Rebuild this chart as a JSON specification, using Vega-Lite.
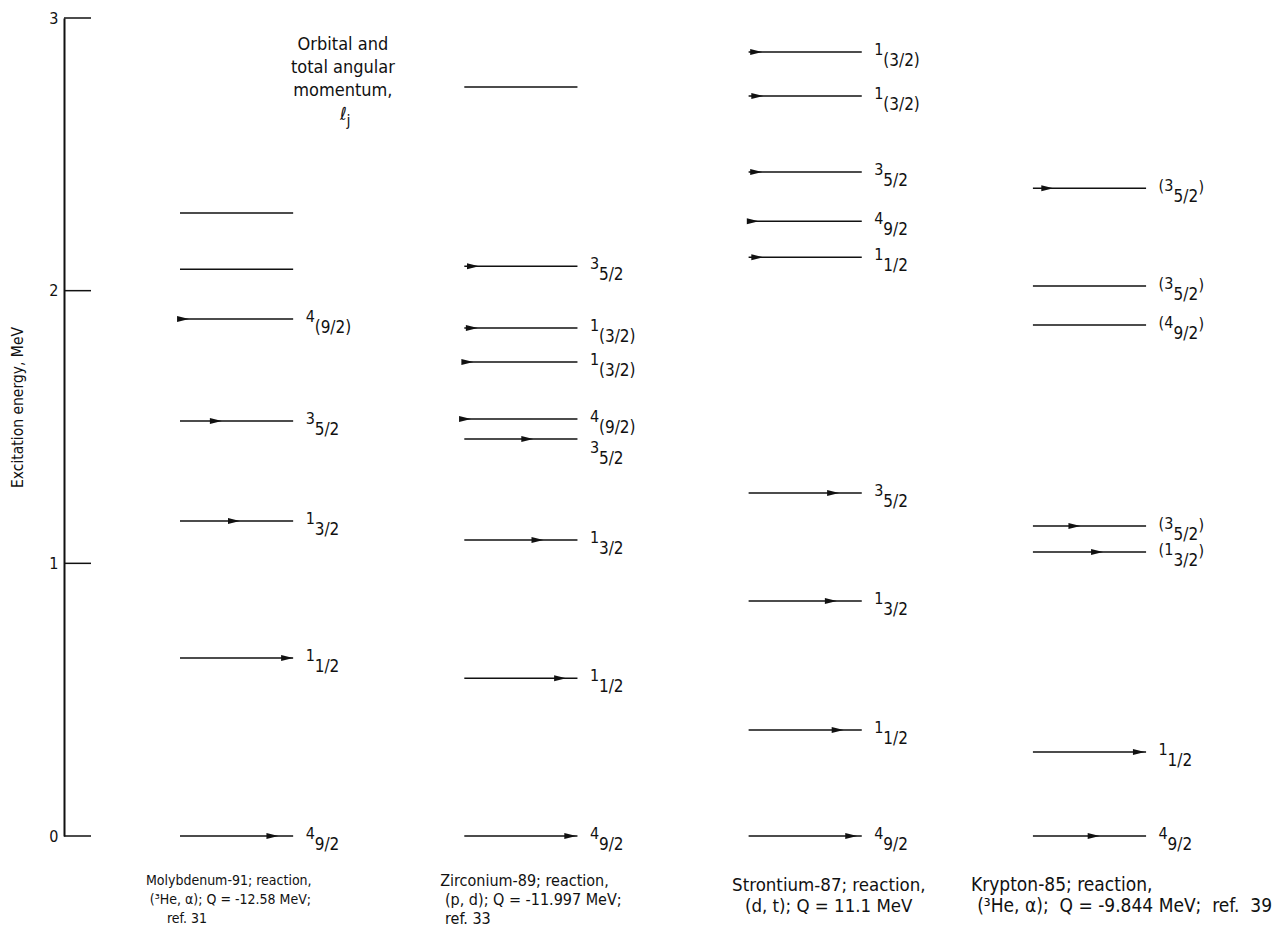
{
  "$schema": "https://vega.github.io/schema/vega-lite/v6.json",
  "width": 1212,
  "height": 818,
  "autosize": {"type": "none"},
  "padding": {"left": 64, "top": 18, "right": 0, "bottom": 112},
  "background": "white",
  "config": {
    "view": {"stroke": null},
    "font": "Liberation Sans Narrow, DejaVu Sans Condensed, Liberation Sans, sans-serif"
  },
  "datasets": {
    "levels": [
      {"col": 1, "E": 2.285},
      {"col": 1, "E": 2.079},
      {"col": 1, "E": 1.896, "l": "4", "j": "9/2", "jp": true, "a": 0.08},
      {"col": 1, "E": 1.522, "l": "3", "j": "5/2", "a": 0.37},
      {"col": 1, "E": 1.155, "l": "1", "j": "3/2", "a": 0.53},
      {"col": 1, "E": 0.653, "l": "1", "j": "1/2", "a": 1.0},
      {"col": 1, "E": 0.0, "l": "4", "j": "9/2", "a": 0.87},
      {"col": 2, "E": 2.747},
      {"col": 2, "E": 2.09, "l": "3", "j": "5/2", "a": 0.13},
      {"col": 2, "E": 1.863, "l": "1", "j": "3/2", "jp": true, "a": 0.12},
      {"col": 2, "E": 1.738, "l": "1", "j": "3/2", "jp": true, "a": 0.08},
      {"col": 2, "E": 1.529, "l": "4", "j": "9/2", "jp": true, "a": 0.06},
      {"col": 2, "E": 1.456, "l": "3", "j": "5/2", "a": 0.61, "below": true},
      {"col": 2, "E": 1.086, "l": "1", "j": "3/2", "a": 0.7},
      {"col": 2, "E": 0.579, "l": "1", "j": "1/2", "a": 0.9},
      {"col": 2, "E": 0.0, "l": "4", "j": "9/2", "a": 0.99},
      {"col": 3, "E": 2.875, "l": "1", "j": "3/2", "jp": true, "a": 0.12},
      {"col": 3, "E": 2.714, "l": "1", "j": "3/2", "jp": true, "a": 0.13},
      {"col": 3, "E": 2.435, "l": "3", "j": "5/2", "a": 0.12},
      {"col": 3, "E": 2.255, "l": "4", "j": "9/2", "a": 0.09},
      {"col": 3, "E": 2.123, "l": "1", "j": "1/2", "a": 0.13},
      {"col": 3, "E": 1.258, "l": "3", "j": "5/2", "a": 0.8},
      {"col": 3, "E": 0.862, "l": "1", "j": "3/2", "a": 0.78},
      {"col": 3, "E": 0.389, "l": "1", "j": "1/2", "a": 0.84},
      {"col": 3, "E": 0.0, "l": "4", "j": "9/2", "a": 0.96},
      {"col": 4, "E": 2.376, "l": "3", "j": "5/2", "op": true, "a": 0.18},
      {"col": 4, "E": 2.017, "l": "3", "j": "5/2", "op": true},
      {"col": 4, "E": 1.874, "l": "4", "j": "9/2", "op": true},
      {"col": 4, "E": 1.137, "l": "3", "j": "5/2", "op": true, "a": 0.42},
      {"col": 4, "E": 1.042, "l": "1", "j": "3/2", "op": true, "a": 0.62},
      {"col": 4, "E": 0.308, "l": "1", "j": "1/2", "a": 0.99},
      {"col": 4, "E": 0.0, "l": "4", "j": "9/2", "a": 0.59}
    ],
    "captions": [
      {"col": 1, "line": 1, "text": "Molybdenum-91; reaction,"},
      {"col": 1, "line": 2, "text": "(³He, α); Q = -12.58 MeV;"},
      {"col": 1, "line": 3, "text": "ref. 31"},
      {"col": 2, "line": 1, "text": "Zirconium-89; reaction,"},
      {"col": 2, "line": 2, "text": "(p, d); Q = -11.997 MeV;"},
      {"col": 2, "line": 3, "text": "ref. 33"},
      {"col": 3, "line": 1, "text": "Strontium-87; reaction,"},
      {"col": 3, "line": 2, "text": "(d, t); Q = 11.1 MeV"},
      {"col": 4, "line": 1, "text": "Krypton-85; reaction,"},
      {"col": 4, "line": 2, "text": "(³He, α);\u00a0 Q = -9.844 MeV;\u00a0 ref.\u00a0 39"}
    ]
  },
  "layer": [
    {
      "data": {"values": [{"E": 0}, {"E": 1}, {"E": 2}, {"E": 3}]},
      "mark": {"type": "rule", "color": "#111", "strokeWidth": 1.5},
      "encoding": {
        "x": {"datum": 0, "type": "quantitative", "scale": {"domain": [0, 4.263], "nice": false, "zero": false}, "axis": null},
        "x2": {"datum": 0.095},
        "y": {
          "field": "E", "type": "quantitative",
          "scale": {"domain": [0, 3], "nice": false, "zero": false},
          "axis": {
            "title": "Excitation energy, MeV",
            "titleFontSize": 15.5, "titleFontWeight": "normal", "titleColor": "#111",
            "titleX": -47, "titleY": 389, "titleAngle": -90,
            "titleAlign": "center", "titleBaseline": "middle",
            "values": [0, 1, 2, 3], "format": "d",
            "ticks": false, "tickSize": 0, "labelPadding": 6,
            "labelFontSize": 16, "labelColor": "#111", "labelFlush": false,
            "labelBaseline": "middle", "labelAlign": "right",
            "domainColor": "#111", "domainWidth": 2, "grid": false
          }
        }
      }
    },
    {
      "data": {"name": "levels"},
      "transform": [
        {"calculate": "datum.col - 0.592", "as": "x0"},
        {"calculate": "datum.x0 + 0.398", "as": "x1"}
      ],
      "mark": {"type": "rule", "color": "#111", "strokeWidth": 1.5},
      "encoding": {
        "x": {"field": "x0", "type": "quantitative", "axis": null},
        "x2": {"field": "x1"},
        "y": {"field": "E", "type": "quantitative"}
      }
    },
    {
      "data": {"name": "levels"},
      "transform": [
        {"filter": "isValid(datum.a)"},
        {"calculate": "datum.col - 0.592 + datum.a * 0.398", "as": "xa"}
      ],
      "mark": {"type": "point", "shape": "M -4 -1 L 0 0 L -4 1 Z", "filled": true, "size": 36, "color": "#111", "opacity": 1},
      "encoding": {
        "x": {"field": "xa", "type": "quantitative", "axis": null},
        "y": {"field": "E", "type": "quantitative"}
      }
    },
    {
      "data": {"name": "levels"},
      "transform": [
        {"filter": "isValid(datum.l)"},
        {"calculate": "datum.col - 0.592 + 0.398 + 0.044", "as": "xl"},
        {"calculate": "datum.below ? datum.E - 0.042 : datum.E", "as": "ly"},
        {"calculate": "(datum.op ? '(' : '') + datum.l", "as": "pre"}
      ],
      "mark": {"type": "text", "align": "left", "baseline": "middle", "dy": -2, "fontSize": 16, "color": "#111"},
      "encoding": {
        "x": {"field": "xl", "type": "quantitative", "axis": null},
        "y": {"field": "ly", "type": "quantitative"},
        "text": {"field": "pre"}
      }
    },
    {
      "data": {"name": "levels"},
      "transform": [
        {"filter": "isValid(datum.l) && !datum.op"},
        {"calculate": "datum.col - 0.592 + 0.398 + 0.044", "as": "xl"},
        {"calculate": "datum.below ? datum.E - 0.042 : datum.E", "as": "ly"},
        {"calculate": "datum.jp ? '(' + datum.j + ')' : datum.j", "as": "sub"}
      ],
      "mark": {"type": "text", "align": "left", "baseline": "middle", "dx": 9, "dy": 9, "fontSize": 17, "color": "#111"},
      "encoding": {
        "x": {"field": "xl", "type": "quantitative", "axis": null},
        "y": {"field": "ly", "type": "quantitative"},
        "text": {"field": "sub"}
      }
    },
    {
      "data": {"name": "levels"},
      "transform": [
        {"filter": "isValid(datum.l) && datum.op"},
        {"calculate": "datum.col - 0.592 + 0.398 + 0.044", "as": "xl"}
      ],
      "mark": {"type": "text", "align": "left", "baseline": "middle", "dx": 15, "dy": 9, "fontSize": 17, "color": "#111"},
      "encoding": {
        "x": {"field": "xl", "type": "quantitative", "axis": null},
        "y": {"field": "E", "type": "quantitative"},
        "text": {"field": "j"}
      }
    },
    {
      "data": {"name": "levels"},
      "transform": [
        {"filter": "isValid(datum.l) && datum.op"},
        {"calculate": "datum.col - 0.592 + 0.398 + 0.044", "as": "xl"},
        {"calculate": "')'", "as": "close"}
      ],
      "mark": {"type": "text", "align": "left", "baseline": "middle", "dx": 40, "dy": -1, "fontSize": 16, "color": "#111"},
      "encoding": {
        "x": {"field": "xl", "type": "quantitative", "axis": null},
        "y": {"field": "E", "type": "quantitative"},
        "text": {"field": "close"}
      }
    },
    {
      "data": {"values": [{"t": "Orbital and\ntotal angular\nmomentum,"}]},
      "mark": {"type": "text", "align": "center", "baseline": "alphabetic", "lineBreak": "\n", "lineHeight": 23, "fontSize": 18, "color": "#111"},
      "encoding": {
        "x": {"datum": 0.981, "type": "quantitative", "axis": null},
        "y": {"datum": 2.883, "type": "quantitative"},
        "text": {"field": "t"}
      }
    },
    {
      "data": {"values": [{"t": "ℓ"}]},
      "mark": {"type": "text", "align": "left", "baseline": "alphabetic", "fontSize": 18, "fontStyle": "italic", "color": "#111"},
      "encoding": {
        "x": {"datum": 0.971, "type": "quantitative", "axis": null},
        "y": {"datum": 2.626, "type": "quantitative"},
        "text": {"field": "t"}
      }
    },
    {
      "data": {"values": [{"t": "j"}]},
      "mark": {"type": "text", "align": "left", "baseline": "alphabetic", "fontSize": 16, "color": "#111"},
      "encoding": {
        "x": {"datum": 0.994, "type": "quantitative", "axis": null},
        "y": {"datum": 2.604, "type": "quantitative"},
        "text": {"field": "t"}
      }
    },
    {
      "data": {"name": "captions"},
      "transform": [
        {"calculate": "datum.col + [[-0.712, -0.698, -0.638], [-0.677, -0.66, -0.66], [-0.65, -0.605], [-0.81, -0.788]][datum.col - 1][datum.line - 1]", "as": "cx"},
        {"calculate": "(datum.col >= 3 ? -0.178 : -0.165) - (datum.col >= 3 ? 0.08 : 0.07) * (datum.line - 1)", "as": "cy"}
      ],
      "mark": {"type": "text", "align": "left", "baseline": "middle", "color": "#111"},
      "encoding": {
        "x": {"field": "cx", "type": "quantitative", "axis": null},
        "y": {"field": "cy", "type": "quantitative"},
        "size": {"field": "col", "type": "ordinal", "scale": {"type": "ordinal", "domain": [1, 2, 3, 4], "range": [14, 16, 18.5, 19]}, "legend": null},
        "text": {"field": "text"}
      }
    }
  ]
}
